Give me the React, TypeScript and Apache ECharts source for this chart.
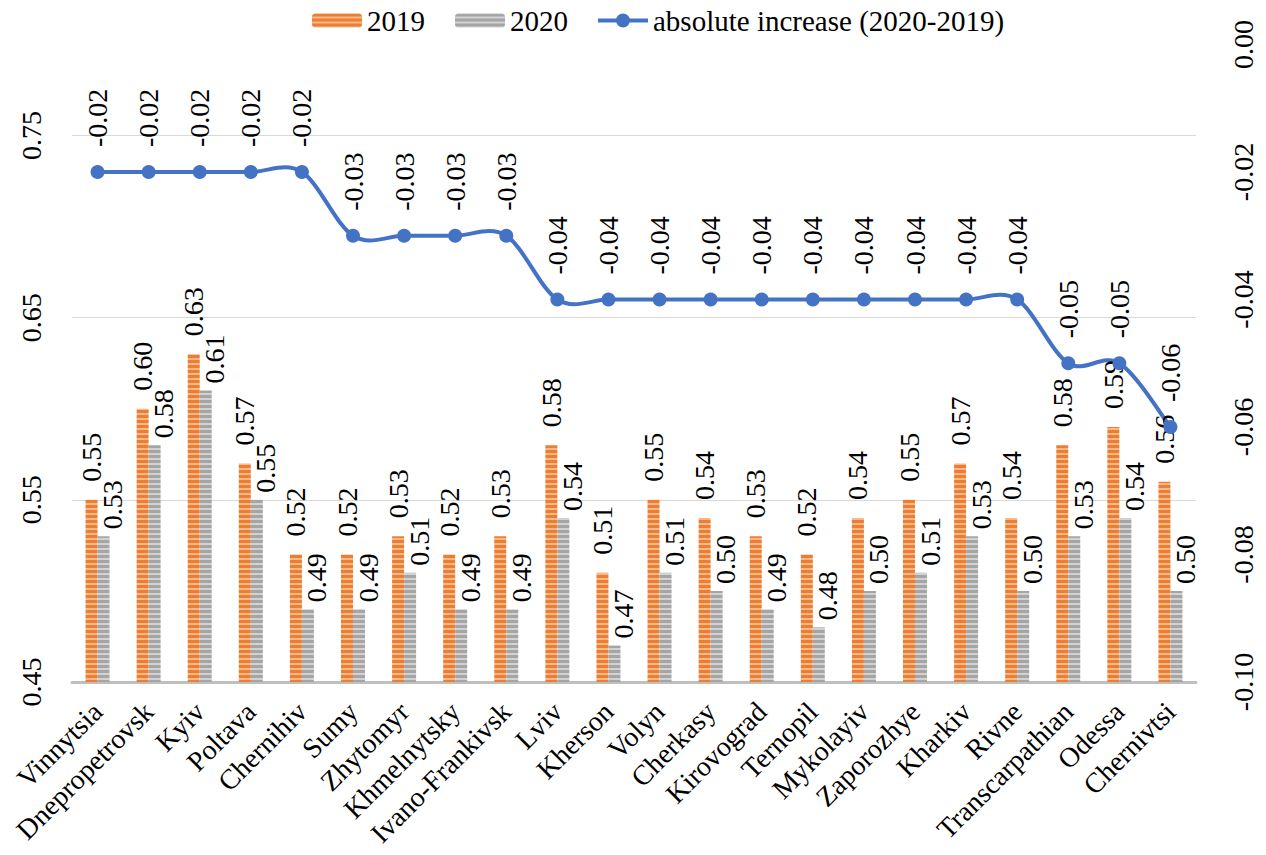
import React, { useEffect, useRef } from "react";
import * as echarts from "echarts";

const categories = [
  "Vinnytsia", "Dnepropetrovsk", "Kyiv", "Poltava", "Chernihiv", "Sumy", "Zhytomyr",
  "Khmelnytsky", "Ivano-Frankivsk", "Lviv", "Kherson", "Volyn", "Cherkasy", "Kirovograd",
  "Ternopil", "Mykolayiv", "Zaporozhye", "Kharkiv", "Rivne", "Transcarpathian", "Odessa", "Chernivtsi",
];
const values2019 = [0.55, 0.60, 0.63, 0.57, 0.52, 0.52, 0.53, 0.52, 0.53, 0.58, 0.51, 0.55, 0.54, 0.53, 0.52, 0.54, 0.55, 0.57, 0.54, 0.58, 0.59, 0.56];
const values2020 = [0.53, 0.58, 0.61, 0.55, 0.49, 0.49, 0.51, 0.49, 0.49, 0.54, 0.47, 0.51, 0.50, 0.49, 0.48, 0.50, 0.51, 0.53, 0.50, 0.53, 0.54, 0.50];
const absoluteIncrease = [-0.02, -0.02, -0.02, -0.02, -0.02, -0.03, -0.03, -0.03, -0.03, -0.04, -0.04, -0.04, -0.04, -0.04, -0.04, -0.04, -0.04, -0.04, -0.04, -0.05, -0.05, -0.06];
const seriesNames = ["2019", "2020", "absolute increase (2020-2019)"];

const FONT = "'Liberation Serif', 'Times New Roman', serif";
const FS = 28;
const LINE_COLOR = "#4472C4";
const LINE_LEGEND_ICON =
  "path://M0,5 L50,5 L50,9 L0,9 Z M32,7 A7,7 0 1 1 18,7 A7,7 0 1 1 32,7 Z";

function stripes(base: string, light: string, period: number, lightRows: number) {
  const c = document.createElement("canvas");
  c.width = 4;
  c.height = period;
  const ctx = c.getContext("2d")!;
  ctx.fillStyle = base;
  ctx.fillRect(0, 0, 4, period);
  ctx.fillStyle = light;
  ctx.fillRect(0, period - lightRows, 4, lightRows);
  return c;
}

export default function App() {
  const ref = useRef<HTMLDivElement>(null);
  useEffect(() => {
    if (!ref.current) return;
    const chart = echarts.init(ref.current, undefined, { renderer: "svg" });
    const orange = { image: stripes("#ED7D31", "#F6B98C", 5, 2), repeat: "repeat" };
    const gray = { image: stripes("#A5A5A5", "#D2D2D2", 5, 2), repeat: "repeat" };
    const fmt2 = (v: number) => (Math.abs(v) < 1e-9 ? "0.00" : v.toFixed(2));
    const barLabel = (offset: number[]) => ({
      show: true,
      position: "top",
      rotate: 90,
      align: "left",
      verticalAlign: "middle",
      distance: 5,
      offset,
      fontSize: FS,
      color: "#000",
      fontFamily: FONT,
      formatter: (p: any) => p.value.toFixed(2),
    });
    const n = absoluteIncrease.length;
    chart.setOption({
      animation: false,
      textStyle: { fontFamily: FONT },
      legend: {
        left: 307,
        top: 1,
        itemWidth: 50,
        itemHeight: 14,
        itemGap: 30,
        textStyle: { fontSize: 29, color: "#000", fontFamily: FONT },
        data: [
          seriesNames[0],
          seriesNames[1],
          {
            name: seriesNames[2],
            icon: LINE_LEGEND_ICON,
            itemStyle: { color: LINE_COLOR, borderWidth: 0 },
          },
        ],
      },
      grid: { left: 72, right: 70, top: 44.5, bottom: 173 },
      xAxis: {
        type: "category",
        data: categories,
        axisLine: { onZero: false, lineStyle: { color: "#BFBFBF", width: 3 } },
        axisTick: { show: false },
        axisLabel: { rotate: 45, fontSize: FS, color: "#000", interval: 0, margin: 25, fontFamily: FONT },
      },
      yAxis: [
        {
          type: "value",
          min: 0.45,
          max: 0.8,
          interval: 0.05,
          position: "left",
          axisLine: { show: false },
          axisTick: { show: false },
          splitLine: { lineStyle: { color: ["#D9D9D9", "rgba(0,0,0,0)"], width: 1 } },
          axisLabel: {
            rotate: 90,
            fontSize: FS,
            color: "#000",
            margin: 27,
            fontFamily: FONT,
            formatter: (v: number) => (Math.round(v * 100) % 10 === 5 && v < 0.79 ? v.toFixed(2) : ""),
          },
        },
        {
          type: "value",
          min: -0.1,
          max: 0,
          interval: 0.02,
          position: "right",
          axisLine: { show: false },
          axisTick: { show: false },
          splitLine: { show: false },
          axisLabel: { rotate: 90, fontSize: FS, color: "#000", margin: 33, fontFamily: FONT, formatter: fmt2 },
        },
      ],
      series: [
        {
          name: seriesNames[0],
          type: "bar",
          data: values2019,
          barWidth: 12,
          barGap: "0%",
          itemStyle: { color: orange },
          label: barLabel([13, 0]),
        },
        {
          name: seriesNames[1],
          type: "bar",
          data: values2020,
          barWidth: 12,
          barGap: "0%",
          itemStyle: { color: gray },
          label: barLabel([2, 9]),
        },
        {
          name: "spline",
          type: "custom",
          coordinateSystem: "cartesian2d",
          xAxisIndex: 0,
          yAxisIndex: 1,
          silent: true,
          data: absoluteIncrease.map((v, i) => [i, v]),
          encode: { x: 0, y: 1 },
          renderItem: (params: any, api: any) => {
            const i = params.dataIndex;
            if (i >= n - 1) return null;
            const pt = (k: number) => {
              const j = Math.max(0, Math.min(n - 1, k));
              return api.coord([j, absoluteIncrease[j]]);
            };
            const p0 = pt(i - 1);
            const p1 = pt(i);
            const p2 = pt(i + 1);
            const p3 = pt(i + 2);
            const t = 1 / 6;
            return {
              type: "bezierCurve",
              shape: {
                x1: p1[0],
                y1: p1[1],
                x2: p2[0],
                y2: p2[1],
                cpx1: p1[0] + (p2[0] - p0[0]) * t,
                cpy1: p1[1] + (p2[1] - p0[1]) * t,
                cpx2: p2[0] - (p3[0] - p1[0]) * t,
                cpy2: p2[1] - (p3[1] - p1[1]) * t,
              },
              style: { stroke: LINE_COLOR, lineWidth: 4, fill: "none", lineCap: "round" },
            };
          },
        },
        {
          name: seriesNames[2],
          type: "line",
          yAxisIndex: 1,
          data: absoluteIncrease,
          symbol: "circle",
          symbolSize: 14,
          lineStyle: { color: LINE_COLOR, width: 0, opacity: 0 },
          itemStyle: { color: LINE_COLOR },
          label: {
            show: true,
            position: "top",
            rotate: 90,
            align: "left",
            verticalAlign: "middle",
            distance: 18,
            fontSize: FS,
            color: "#000",
            fontFamily: FONT,
            formatter: (p: any) => p.value.toFixed(2),
          },
        },
      ],
    });
    return () => chart.dispose();
  }, []);
  return (
    <div
      ref={ref}
      style={{ position: "fixed", left: 0, top: 0, width: 1266, height: 855, background: "#fff" }}
    />
  );
}
